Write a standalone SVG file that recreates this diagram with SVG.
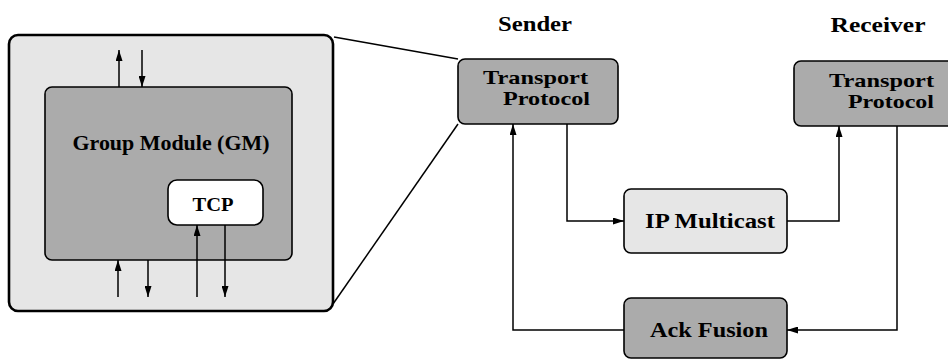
<svg xmlns="http://www.w3.org/2000/svg" width="948" height="360" viewBox="0 0 948 360">
  <style>
    .lbl { font-family: "Liberation Serif", "DejaVu Serif", "Times New Roman", serif; font-weight: bold; fill: #000; }
    .light { fill: #e6e6e6; stroke: #000; stroke-width: 1.6; }
    .dark { fill: #ababab; stroke: #000; stroke-width: 1.6; }
    .white { fill: #fff; stroke: #000; stroke-width: 1.6; }
    .wire { fill: none; stroke: #000; stroke-width: 1.5; }
  </style>
  <defs>
    <marker id="arrow" viewBox="0 0 11 7" refX="11" refY="3.5" markerWidth="11" markerHeight="7" markerUnits="userSpaceOnUse" orient="auto">
      <path d="M0,0 L11,3.5 L0,7 Z" fill="#000"/>
    </marker>
  </defs>
  <rect width="948" height="360" fill="#fff"/>

  <!-- Expanded view of a node: group module with embedded TCP -->
  <g id="node-detail">
    <rect x="9" y="35" width="324" height="276" rx="9" fill="#e6e6e6" stroke="#000" stroke-width="2.6"/>
    <g id="group-module">
      <rect class="dark" x="45" y="87" width="247" height="173" rx="7"/>
      <text class="lbl" x="171" y="150" font-size="20" text-anchor="middle" textLength="197" lengthAdjust="spacingAndGlyphs">Group Module (GM)</text>
    </g>
    <g id="tcp">
      <rect class="white" x="168" y="180" width="95" height="45" rx="9"/>
      <text class="lbl" x="213" y="211" font-size="19" text-anchor="middle" textLength="41" lengthAdjust="spacingAndGlyphs">TCP</text>
    </g>
    <g id="gm-io">
      <line class="wire" x1="119" y1="87" x2="119" y2="50" marker-end="url(#arrow)"/>
      <line class="wire" x1="142" y1="50" x2="142" y2="87" marker-end="url(#arrow)"/>
      <line class="wire" x1="118" y1="297" x2="118" y2="260" marker-end="url(#arrow)"/>
      <line class="wire" x1="148" y1="260" x2="148" y2="297" marker-end="url(#arrow)"/>
      <line class="wire" x1="197" y1="297" x2="197" y2="225" marker-end="url(#arrow)"/>
      <line class="wire" x1="225" y1="225" x2="225" y2="297" marker-end="url(#arrow)"/>
    </g>
  </g>

  <!-- Zoom lines tying the detail to the sender -->
  <g id="zoom-lines">
    <line class="wire" x1="334" y1="37" x2="458" y2="59"/>
    <line class="wire" x1="333" y1="304" x2="458" y2="124"/>
  </g>

  <text class="lbl" x="535" y="31" font-size="21" text-anchor="middle" textLength="74" lengthAdjust="spacingAndGlyphs">Sender</text>
  <text class="lbl" x="878" y="32" font-size="21" text-anchor="middle" textLength="95" lengthAdjust="spacingAndGlyphs">Receiver</text>

  <g id="sender-tp">
    <rect class="dark" x="458" y="59" width="160" height="65" rx="7"/>
    <text class="lbl" x="483" y="84" font-size="19" textLength="105" lengthAdjust="spacingAndGlyphs">Transport</text>
    <text class="lbl" x="503" y="105" font-size="19" textLength="87" lengthAdjust="spacingAndGlyphs">Protocol</text>
  </g>

  <g id="receiver-tp">
    <rect class="dark" x="794" y="61" width="170" height="65" rx="7"/>
    <text class="lbl" x="829" y="87" font-size="19" textLength="105" lengthAdjust="spacingAndGlyphs">Transport</text>
    <text class="lbl" x="848" y="108" font-size="19" textLength="86" lengthAdjust="spacingAndGlyphs">Protocol</text>
  </g>

  <g id="ip-multicast">
    <rect class="light" x="624" y="189" width="163" height="64" rx="7"/>
    <text class="lbl" x="710" y="228" font-size="20" text-anchor="middle" textLength="130" lengthAdjust="spacingAndGlyphs">IP Multicast</text>
  </g>

  <g id="ack-fusion">
    <rect class="dark" x="624" y="298" width="163" height="60" rx="7"/>
    <text class="lbl" x="709" y="337" font-size="20" text-anchor="middle" textLength="118" lengthAdjust="spacingAndGlyphs">Ack Fusion</text>
  </g>

  <g id="connectors">
    <polyline class="wire" points="567,124 567,221 624,221" marker-end="url(#arrow)"/>
    <polyline class="wire" points="787,221 839,221 839,126" marker-end="url(#arrow)"/>
    <polyline class="wire" points="897,126 897,330 787,330" marker-end="url(#arrow)"/>
    <polyline class="wire" points="624,330 513,330 513,124" marker-end="url(#arrow)"/>
  </g>
</svg>
